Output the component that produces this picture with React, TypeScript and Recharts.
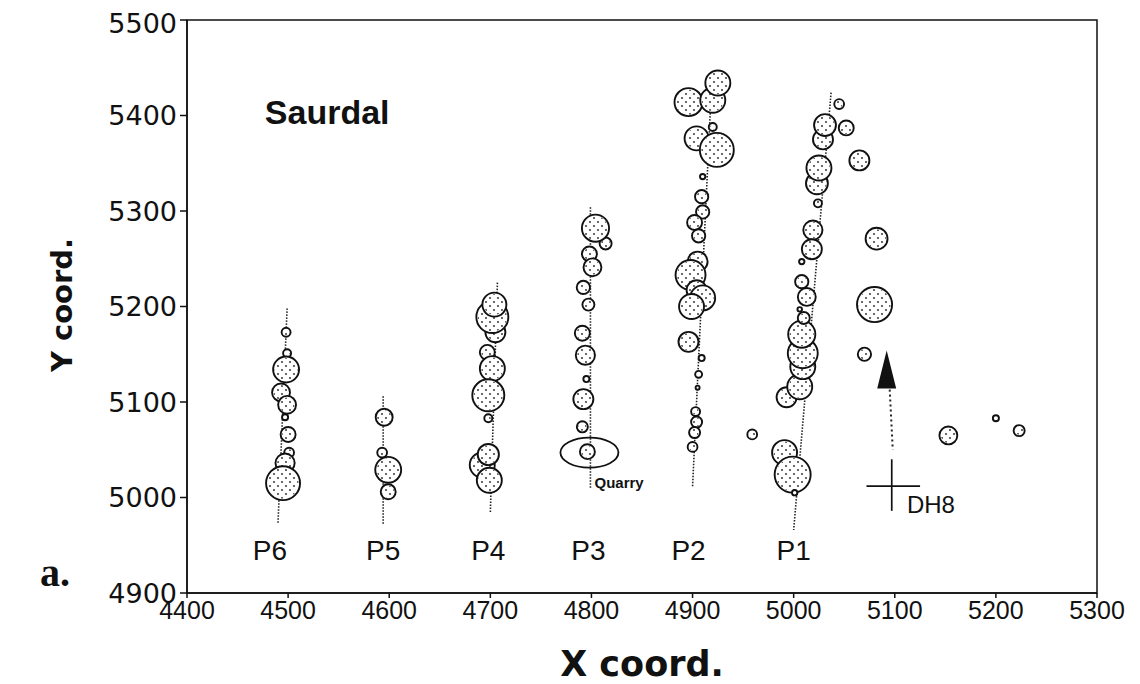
import React from 'react';
import {
  ScatterChart,
  Scatter,
  XAxis,
  YAxis,
  ZAxis,
  ReferenceLine,
  ReferenceArea,
  ReferenceDot,
} from 'recharts';

type Quake = { x: number; y: number; z: number };

const X_TICKS = [4400, 4500, 4600, 4700, 4800, 4900, 5000, 5100, 5200, 5300];
const Y_TICKS = [4900, 5000, 5100, 5200, 5300, 5400, 5500];

// events along each profile: x, y coordinates and relative size (z)
const p6Events: Quake[] = [
  { x: 4498, y: 5173, z: 5 },
  { x: 4499, y: 5151, z: 4 },
  { x: 4498, y: 5134, z: 42 },
  { x: 4493, y: 5110, z: 20 },
  { x: 4499, y: 5097, z: 20 },
  { x: 4497, y: 5084, z: 2.3 },
  { x: 4500, y: 5066, z: 14 },
  { x: 4501, y: 5047, z: 6 },
  { x: 4497, y: 5036, z: 23 },
  { x: 4495, y: 5015, z: 72 },
];

const p5Events: Quake[] = [
  { x: 4595, y: 5084, z: 18 },
  { x: 4593, y: 5047, z: 6 },
  { x: 4599, y: 5029, z: 42 },
  { x: 4599, y: 5006, z: 14 },
];

const p4Events: Quake[] = [
  { x: 4705, y: 5173, z: 25 },
  { x: 4702, y: 5189, z: 64 },
  { x: 4704, y: 5202, z: 36 },
  { x: 4697, y: 5152, z: 14 },
  { x: 4702, y: 5135, z: 39 },
  { x: 4698, y: 5107, z: 64 },
  { x: 4698, y: 5083, z: 4 },
  { x: 4692, y: 5034, z: 39 },
  { x: 4698, y: 5045, z: 28 },
  { x: 4699, y: 5018, z: 39 },
];

const p3Events: Quake[] = [
  { x: 4814, y: 5266, z: 9 },
  { x: 4804, y: 5282, z: 46 },
  { x: 4798, y: 5255, z: 14 },
  { x: 4801, y: 5241, z: 20 },
  { x: 4792, y: 5220, z: 11 },
  { x: 4797, y: 5202, z: 9 },
  { x: 4791, y: 5172, z: 14 },
  { x: 4794, y: 5149, z: 23 },
  { x: 4795, y: 5124, z: 2.3 },
  { x: 4792, y: 5103, z: 25 },
  { x: 4791, y: 5074, z: 7.6 },
  { x: 4796, y: 5048, z: 14 },
];

const p2Events: Quake[] = [
  { x: 4896, y: 5414, z: 49 },
  { x: 4920, y: 5416, z: 39 },
  { x: 4925, y: 5434, z: 39 },
  { x: 4920, y: 5388, z: 4 },
  { x: 4904, y: 5376, z: 36 },
  { x: 4924, y: 5364, z: 72 },
  { x: 4910, y: 5336, z: 1.8 },
  { x: 4909, y: 5315, z: 11 },
  { x: 4910, y: 5299, z: 11 },
  { x: 4902, y: 5288, z: 14 },
  { x: 4906, y: 5274, z: 11 },
  { x: 4905, y: 5247, z: 25 },
  { x: 4898, y: 5233, z: 56 },
  { x: 4904, y: 5217, z: 25 },
  { x: 4910, y: 5209, z: 39 },
  { x: 4899, y: 5200, z: 39 },
  { x: 4896, y: 5163, z: 25 },
  { x: 4909, y: 5146, z: 2.3 },
  { x: 4906, y: 5129, z: 3 },
  { x: 4905, y: 5115, z: 1 },
  { x: 4903, y: 5090, z: 5 },
  { x: 4904, y: 5079, z: 7.6 },
  { x: 4902, y: 5068, z: 7.6 },
  { x: 4900, y: 5053, z: 6 },
];

const p1Events: Quake[] = [
  { x: 5045, y: 5412, z: 6 },
  { x: 5052, y: 5387, z: 14 },
  { x: 5029, y: 5375, z: 25 },
  { x: 5031, y: 5390, z: 30 },
  { x: 5023, y: 5329, z: 30 },
  { x: 5025, y: 5345, z: 39 },
  { x: 5024, y: 5308, z: 4 },
  { x: 5019, y: 5280, z: 23 },
  { x: 5018, y: 5260, z: 25 },
  { x: 5008, y: 5247, z: 1.8 },
  { x: 5008, y: 5226, z: 11 },
  { x: 5013, y: 5210, z: 20 },
  { x: 5006, y: 5197, z: 1.3 },
  { x: 4993, y: 5105, z: 25 },
  { x: 5006, y: 5116, z: 39 },
  { x: 5009, y: 5137, z: 39 },
  { x: 5009, y: 5151, z: 56 },
  { x: 5008, y: 5171, z: 46 },
  { x: 5010, y: 5188, z: 9 },
  { x: 4991, y: 5047, z: 39 },
  { x: 4999, y: 5024, z: 81 },
  { x: 5001, y: 5005, z: 1.8 },
];

// scattered events off the profiles
const offEvents: Quake[] = [
  { x: 4959, y: 5066, z: 6 },
  { x: 5065, y: 5353, z: 25 },
  { x: 5082, y: 5271, z: 30 },
  { x: 5080, y: 5202, z: 77 },
  { x: 5070, y: 5150, z: 11 },
  { x: 5153, y: 5065, z: 20 },
  { x: 5200, y: 5083, z: 2.3 },
  { x: 5223, y: 5070, z: 7.6 },
];

// profile trend lines [top, bottom] and where each profile is named
const profileLines = [
  { name: 'P6', from: [4499, 5198], to: [4490, 4973], label: [4482, 4945] },
  { name: 'P5', from: [4594, 5106], to: [4594, 4971], label: [4594, 4945] },
  { name: 'P4', from: [4707, 5225], to: [4700, 4984], label: [4698, 4945] },
  { name: 'P3', from: [4799, 5304], to: [4799, 5010], label: [4797, 4945] },
  { name: 'P2', from: [4919, 5437], to: [4900, 5011], label: [4896, 4945] },
  { name: 'P1', from: [5037, 5424], to: [5000, 4966], label: [5000, 4945] },
];

const QUARRY = { x: 4798, y: 5047 };
const QUARRY_LABEL = { x: 4803, y: 5016 };
const DH8 = { x: 5097, y: 5012 };
const DH8_LABEL = { x: 5112, y: 4993 };
const ARROW_TIP = { x: 5092, y: 5154 };
const ARROW_SHAFT = [
  { x: 5095, y: 5113 },
  { x: 5098, y: 5050 },
];
const SITE_LABEL = { x: 4477, y: 5404 };

const FONT = '"Liberation Sans", Arial, Helvetica, sans-serif';
const WIDE_FONT = '"DejaVu Sans", Verdana, sans-serif';

const Bubble = (props: any) => {
  const { cx, cy, width } = props;
  const r = Math.max(width / 2, 1.5);
  return (
    <g>
      <circle cx={cx} cy={cy} r={r} fill="#fff" stroke="#111" strokeWidth={1.9} />
      {r > 4 && <circle cx={cx} cy={cy} r={r - 1.5} fill="url(#stipple)" />}
    </g>
  );
};

const textShape = (text: string, size: number, anchor: 'start' | 'middle', bold = false) =>
  (props: any) => (
    <text
      x={props.cx}
      y={props.cy}
      fontSize={size}
      fontWeight={bold ? 700 : 400}
      fontFamily={FONT}
      textAnchor={anchor}
      dominantBaseline="central"
      fill="#111"
    >
      {text}
    </text>
  );

const series = [p6Events, p5Events, p4Events, p3Events, p2Events, p1Events, offEvents];

export default function App() {
  return (
    <div style={{ position: 'relative', width: 1124, height: 676 }}>
      <svg width={0} height={0} style={{ position: 'absolute' }}>
        <defs>
          <pattern id="stipple" width={8} height={8} patternUnits="userSpaceOnUse">
            <circle cx={2} cy={2} r={0.9} fill="#222" />
            <circle cx={6} cy={6} r={0.9} fill="#222" />
          </pattern>
        </defs>
      </svg>
      <ScatterChart
        width={1124}
        height={676}
        margin={{ top: 12, right: 35, bottom: 31, left: 79 }}
        style={{ fontFamily: FONT }}
      >
        <ReferenceArea
          x1={4400}
          x2={5300}
          y1={4900}
          y2={5500}
          fill="none"
          stroke="#111"
          strokeWidth={1.5}
          fillOpacity={0}
        />
        <XAxis
          type="number"
          dataKey="x"
          domain={[4400, 5300]}
          ticks={X_TICKS}
          height={60}
          tickSize={5}
          tickMargin={3}
          stroke="#111"
          strokeWidth={1.5}
          tick={{ fontSize: 25, fill: '#111' }}
          label={{
            content: () => (
              <g>
                <text x={634} y={668} textAnchor="middle" fontSize={35} fontWeight={700} fontFamily={WIDE_FONT} fill="#111">
                  X coord.
                </text>
                <text x={32} y={578} fontSize={40} fontWeight={700} fontFamily='"Liberation Serif", "Times New Roman", serif' fill="#111">
                  a.
                </text>
              </g>
            ),
          }}
        />
        <YAxis
          type="number"
          dataKey="y"
          domain={[4900, 5500]}
          ticks={Y_TICKS}
          width={100}
          tickSize={7}
          tickMargin={3}
          stroke="#111"
          strokeWidth={1.5}
          tick={{ fontSize: 27, fill: '#111', fontFamily: WIDE_FONT }}
          label={{
            content: () => (
              <text
                x={54}
                y={297}
                transform="rotate(-90 54 297)"
                textAnchor="middle"
                dominantBaseline="central"
                fontSize={29}
                fontWeight={700}
                fontFamily={WIDE_FONT}
                fill="#111"
              >
                Y coord.
              </text>
            ),
          }}
        />
        <ZAxis type="number" dataKey="z" domain={[0, 100]} range={[0, 1257]} />
        {series.map((data, i) => (
          <Scatter key={i} data={data} shape={Bubble} isAnimationActive={false} />
        ))}
        {profileLines.map((p) => (
          <ReferenceLine
            key={p.name}
            segment={[
              { x: p.from[0], y: p.from[1] },
              { x: p.to[0], y: p.to[1] },
            ]}
            stroke="#222"
            strokeWidth={1.6}
            strokeDasharray="1.5 1.5"
          />
        ))}
        {profileLines.map((p) => (
          <ReferenceDot
            key={`lbl-${p.name}`}
            x={p.label[0]}
            y={p.label[1]}
            shape={textShape(p.name, 28, 'middle')}
          />
        ))}
        <ReferenceDot
          x={QUARRY.x}
          y={QUARRY.y}
          shape={(props: any) => (
            <ellipse cx={props.cx} cy={props.cy} rx={29} ry={15} fill="none" stroke="#111" strokeWidth={1.8} />
          )}
        />
        <ReferenceDot x={QUARRY_LABEL.x} y={QUARRY_LABEL.y} shape={textShape('Quarry', 15, 'start', true)} />
        <ReferenceLine
          segment={[ARROW_SHAFT[0], ARROW_SHAFT[1]]}
          stroke="#222"
          strokeWidth={2}
          strokeDasharray="2 3"
        />
        <ReferenceDot
          x={ARROW_TIP.x}
          y={ARROW_TIP.y}
          shape={(props: any) => (
            <path
              d={`M${props.cx},${props.cy} L${props.cx - 9.5},${props.cy + 38} L${props.cx + 9.5},${props.cy + 38} Z`}
              fill="#111"
            />
          )}
        />
        <ReferenceLine
          segment={[
            { x: DH8.x, y: 5040 },
            { x: DH8.x, y: 4986 },
          ]}
          stroke="#111"
          strokeWidth={1.7}
        />
        <ReferenceLine
          segment={[
            { x: 5072, y: DH8.y },
            { x: 5125, y: DH8.y },
          ]}
          stroke="#111"
          strokeWidth={1.7}
        />
        <ReferenceDot x={DH8_LABEL.x} y={DH8_LABEL.y} shape={textShape('DH8', 24, 'start')} />
        <ReferenceDot x={SITE_LABEL.x} y={SITE_LABEL.y} shape={textShape('Saurdal', 34, 'start', true)} />
      </ScatterChart>
    </div>
  );
}
